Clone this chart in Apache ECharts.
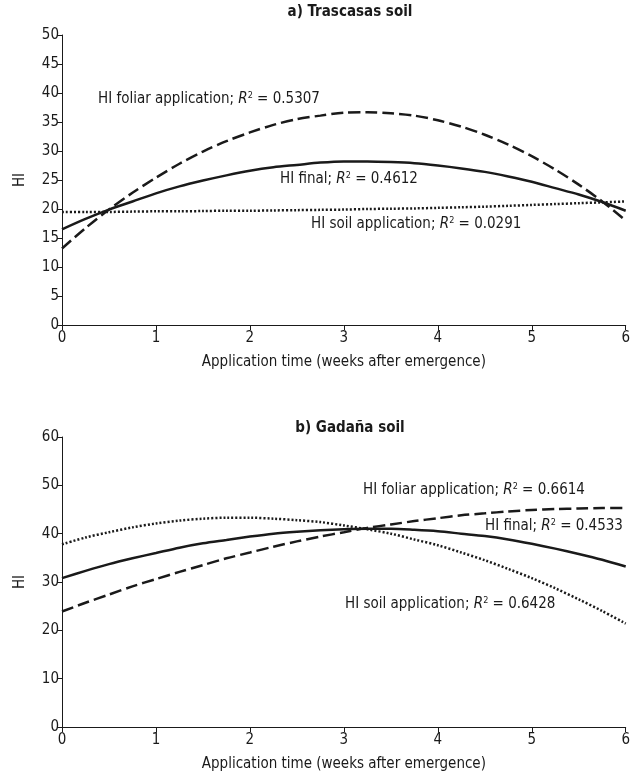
<!DOCTYPE html>
<html>
<head>
<meta charset="utf-8">
<script src="https://cdn.jsdelivr.net/npm/echarts@6/dist/echarts.min.js"></script>
<style>
  html, body { margin: 0; padding: 0; background: #fff; }
  #chart { width: 633px; height: 781px; }
</style>
</head>
<body>
<div id="chart"></div>
<script>
// application time (weeks after emergence), read every quarter week
const weeks = [0, 0.25, 0.5, 0.75, 1, 1.25, 1.5, 1.75, 2, 2.25, 2.5, 2.75, 3,
               3.25, 3.5, 3.75, 4, 4.25, 4.5, 4.75, 5, 5.25, 5.5, 5.75, 6];

// a) Trascasas soil
const trasFinal  = [16.5, 18.3, 19.9, 21.3, 22.7, 23.9, 24.9, 25.8, 26.6, 27.2, 27.6, 28.0, 28.2,
                    28.2, 28.1, 27.9, 27.5, 27.0, 26.4, 25.6, 24.7, 23.6, 22.5, 21.2, 19.7];
const trasFoliar = [13.2, 16.7, 19.9, 22.8, 25.4, 27.8, 29.9, 31.7, 33.2, 34.5, 35.5, 36.1, 36.6,
                    36.7, 36.5, 36.1, 35.3, 34.2, 32.8, 31.1, 29.1, 26.8, 24.2, 21.3, 18.0];
const trasSoil   = [19.5, 19.5, 19.5, 19.55, 19.6, 19.6, 19.65, 19.7, 19.7, 19.75, 19.8, 19.85, 19.9,
                    20.0, 20.05, 20.1, 20.2, 20.3, 20.4, 20.55, 20.7, 20.85, 21.0, 21.15, 21.3];

// b) Gadaña soil
const gadFinal  = [30.8, 32.3, 33.7, 34.9, 36.0, 37.1, 38.0, 38.7, 39.4, 40.0, 40.4, 40.7, 40.9,
                   41.0, 41.0, 40.8, 40.5, 40.0, 39.5, 38.8, 37.9, 36.9, 35.8, 34.6, 33.2];
const gadFoliar = [23.9, 25.7, 27.4, 29.1, 30.6, 32.1, 33.5, 34.9, 36.1, 37.3, 38.4, 39.4, 40.3,
                   41.2, 41.9, 42.6, 43.2, 43.8, 44.2, 44.6, 44.9, 45.1, 45.2, 45.3, 45.3];
const gadSoil   = [37.8, 39.2, 40.3, 41.3, 42.1, 42.7, 43.1, 43.3, 43.3, 43.1, 42.8, 42.4, 41.7,
                   40.9, 40.0, 38.8, 37.6, 36.1, 34.5, 32.7, 30.8, 28.7, 26.4, 24.0, 21.4];

const xTicks = [0, 1, 2, 3, 4, 5, 6];
const yTicksA = [0, 5, 10, 15, 20, 25, 30, 35, 40, 45, 50];
const yTicksB = [0, 10, 20, 30, 40, 50, 60];

const FONT = '"Liberation Sans Narrow", "DejaVu Sans Condensed", "Liberation Sans", sans-serif';
const INK = '#1a1a1a';

const pairs = (ys) => weeks.map((w, i) => [w, ys[i]]);

const xAxisFor = (gridIndex) => ({
  type: 'value',
  gridIndex,
  min: xTicks[0],
  max: xTicks[xTicks.length - 1],
  interval: 1,
  name: 'Application time (weeks after emergence)',
  nameLocation: 'middle',
  nameGap: 30,
  nameTextStyle: { fontFamily: FONT, fontSize: 15, color: INK },
  axisLine: { lineStyle: { color: INK, width: 1 } },
  axisTick: { show: true, length: 5, lineStyle: { color: INK } },
  axisLabel: { fontFamily: FONT, fontSize: 15, color: INK, margin: 6 },
  splitLine: { show: false }
});

const yAxisFor = (gridIndex, ticks) => ({
  type: 'value',
  gridIndex,
  min: ticks[0],
  max: ticks[ticks.length - 1],
  interval: ticks[1] - ticks[0],
  name: 'HI',
  nameLocation: 'middle',
  nameGap: 34,
  nameTextStyle: { fontFamily: FONT, fontSize: 15, color: INK },
  axisLine: { show: true, lineStyle: { color: INK, width: 1 } },
  axisTick: { show: true, length: 5, lineStyle: { color: INK } },
  axisLabel: { fontFamily: FONT, fontSize: 15, color: INK, margin: 3 },
  splitLine: { show: false }
});

const curve = (name, x, y, ys, type) => ({
  name,
  type: 'line',
  xAxisIndex: x,
  yAxisIndex: y,
  smooth: 0.3,
  showSymbol: false,
  silent: true,
  lineStyle: { color: INK, width: 2.5, type },
  data: pairs(ys)
});

const rich = {
  a: { fontFamily: FONT, fontSize: 15, fill: INK },
  r: { fontFamily: FONT, fontSize: 15, fontStyle: 'italic', fill: INK },
  s: { fontFamily: FONT, fontSize: 9, fill: INK, padding: [0, 0, 8, 0] }
};

const label = (x, y, name, r2) => ({
  type: 'text',
  left: x,
  top: y,
  style: {
    text: '{a|' + name + '; }{r|R}{s|2}{a| = ' + r2 + '}',
    rich
  }
});

const option = {
  backgroundColor: '#fff',
  animation: false,
  title: [
    { text: 'a) Trascasas soil', left: 345, top: 0, textAlign: 'center',
      textStyle: { fontFamily: FONT, fontSize: 15, fontWeight: 'bold', color: INK } },
    { text: 'b) Gadaña soil', left: 345, top: 416, textAlign: 'center',
      textStyle: { fontFamily: FONT, fontSize: 15, fontWeight: 'bold', color: INK } }
  ],
  grid: [
    { left: 62, right: 6, top: 35, height: 290 },
    { left: 62, right: 6, top: 437, height: 290 }
  ],
  xAxis: [xAxisFor(0), xAxisFor(1)],
  yAxis: [yAxisFor(0, yTicksA), yAxisFor(1, yTicksB)],
  series: [
    curve('HI final', 0, 0, trasFinal, 'solid'),
    curve('HI foliar application', 0, 0, trasFoliar, [12, 5]),
    curve('HI soil application', 0, 0, trasSoil, [2, 2]),
    curve('HI final', 1, 1, gadFinal, 'solid'),
    curve('HI foliar application', 1, 1, gadFoliar, [12, 5]),
    curve('HI soil application', 1, 1, gadSoil, [2, 2])
  ],
  graphic: [
    label(98, 91, 'HI foliar application', '0.5307'),
    label(280, 171, 'HI final', '0.4612'),
    label(311, 216, 'HI soil application', '0.0291'),
    label(363, 482, 'HI foliar application', '0.6614'),
    label(485, 518, 'HI final', '0.4533'),
    label(345, 596, 'HI soil application', '0.6428')
  ]
};

const chart = echarts.init(document.getElementById('chart'), null, { renderer: 'canvas' });
chart.setOption(option);
window.addEventListener('resize', () => chart.resize());
</script>
</body>
</html>
